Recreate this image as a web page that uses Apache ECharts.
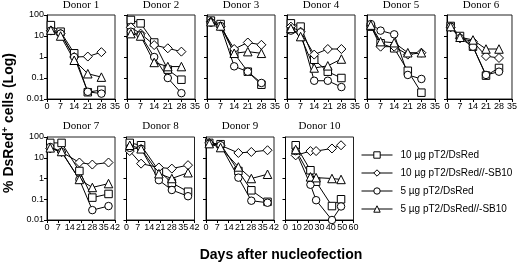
<!DOCTYPE html>
<html>
<head>
<meta charset="utf-8">
<script src="https://cdn.jsdelivr.net/npm/echarts@6/dist/echarts.min.js"></script>
<style>
  html, body { margin: 0; padding: 0; background: #fff; }
  #chart { width: 520px; height: 264px; }
</style>
</head>
<body>
<div id="chart"></div>
<script>
// panels
const donors = ['Donor 1', 'Donor 2', 'Donor 3', 'Donor 4', 'Donor 5',
                'Donor 6', 'Donor 7', 'Donor 8', 'Donor 9', 'Donor 10'];
const days = [
  [2, 7, 14, 21, 28], [2, 7, 14, 21, 28], [2, 7, 14, 21, 28],
  [2, 7, 14, 21, 28], [2, 7, 14, 21, 28], [2, 7, 14, 21, 28],
  [2, 9, 20, 28, 38], [2, 9, 20, 28, 38], [2, 9, 20, 28, 38],
  [9, 22, 27, 41, 49]
];
const xMax  = [35, 35, 35, 35, 35, 35, 42, 42, 42, 60];
const xStep = [7, 7, 7, 7, 7, 7, 7, 7, 7, 10];
const yTicks = ['100', '10', '1', '0.1', '0.01'];

// series names (legend)
const names = ['10 µg pT2/DsRed', '10 µg pT2/DsRed//-SB10',
               '5 µg pT2/DsRed', '5 µg pT2/DsRed//-SB10'];

// % DsRed+ per donor, one row per donor
const sq10 = [
  [33, 16, 1.5, 0.021, 0.027],
  [58, 40, 4.9, 0.25, 0.083],
  [54, 37, 1.5, 0.2, 0.048],
  [40, 28, 0.74, 0.2, 0.1],
  [28, 4.5, 2.6, 0.22, 0.02],
  [30, 10, 3.1, 0.13, 0.3],
  [52, 52, 2.3, 0.12, 0.18],
  [52, 40, 2.3, 0.62, 0.23],
  [52, 45, 2.3, 0.27, 0.075],
  [40, 2.5, 0.7, 0.047, 0.1]
];
const di10 = [
  [18, 13, 1.0, 1.05, 1.7],
  [26, 13, 3.7, 2.6, 1.8],
  [48, 28, 2.4, 4.9, 3.8],
  [28, 16, 1.3, 2.4, 2.4],
  [30, 3.1, 3.1, 1.3, 1.6],
  [26, 7.8, 5.4, 1.1, 0.9],
  [28, 19, 5.9, 4.7, 5.9],
  [21, 5.2, 3.4, 3.0, 4.4],
  [52, 40, 17, 19, 23],
  [13, 21, 21, 28, 40]
];
const ci5 = [
  [18, 13, 1.0, 0.022, 0.018],
  [16, 11, 1.0, 0.1, 0.019],
  [43, 30, 0.36, 0.2, 0.058],
  [18, 15, 0.074, 0.074, 0.037],
  [37, 18, 12, 0.14, 0.09],
  [28, 8, 3.1, 0.14, 0.2],
  [33, 19, 0.9, 0.03, 0.047],
  [30, 27, 0.83, 0.28, 0.14],
  [48, 40, 1.1, 0.085, 0.068],
  [21, 0.5, 0.09, 0.01, 0.045]
];
const tr5 = [
  [19, 10, 0.7, 0.16, 0.11],
  [13, 10, 0.55, 0.35, 0.35],
  [48, 30, 1.5, 1.8, 1.5],
  [23, 9.4, 0.3, 0.38, 0.8],
  [33, 5.4, 4.8, 1.6, 1.6],
  [28, 8.7, 6.5, 2.4, 2.4],
  [30, 20, 0.9, 0.37, 0.57],
  [40, 27, 1.7, 1.0, 1.9],
  [48, 31, 3.6, 1.0, 1.6],
  [25, 1.2, 1.1, 1.0, 0.9]
];

const groups = [sq10, di10, ci5, tr5];
const symbols = ['rect', 'diamond', 'circle', 'triangle'];
const symSize = [7.5, 9, 7.5, 8.5];

let chart = echarts.init(document.getElementById('chart'));

let grids = [], xAxes = [], yAxes = [], series = [], titles = [];
for (let i = 0; i < donors.length; i++) {
    let row = i < 6 ? 0 : 1;
    let col = i < 6 ? i : i - 6;
    let left = row === 0 ? 47 + col * 80 : 47 + col * 79.5;
    let top = row === 0 ? 15 : 137;
    let w = 68;
    let h = row === 0 ? 84 : 83;
    grids.push({left: left, top: top, width: w, height: h,
        show: true, borderColor: '#222', borderWidth: 1, containLabel: false});
    titles.push({
        text: donors[i], left: left + w / 2, top: row === 0 ? 0 : 121,
        textAlign: 'center', padding: 0,
        textStyle: {fontFamily: 'Liberation Serif', fontSize: 11, fontWeight: 'normal', color: '#000'}
    });
    xAxes.push({
        gridIndex: i, type: 'value', min: 0, max: xMax[i], interval: xStep[i],
        axisLine: {lineStyle: {color: '#000', width: 1}},
        axisTick: {length: 3, lineStyle: {color: '#000'}},
        axisLabel: {fontSize: 9, margin: 3, color: '#000', fontFamily: 'Liberation Sans'},
        splitLine: {show: false}
    });
    yAxes.push({
        gridIndex: i, type: 'log', logBase: 10, min: 0.01, max: 100,
        axisLine: {show: true, lineStyle: {color: '#000', width: 1}},
        axisTick: {show: true, length: 3, lineStyle: {color: '#000'}},
        axisLabel: {
            show: col === 0, fontSize: 9, margin: 3, color: '#000', fontFamily: 'Liberation Sans',
            formatter: function (v) {
                return yTicks[Math.round(2 - Math.log10(v))]
            }
        },
        splitLine: {show: false}
    });
    groups.forEach(function (g, k) {
        series.push({
            name: names[k], type: 'line', xAxisIndex: i, yAxisIndex: i,
            data: days[i].map(function (d, j) { return [d, g[i][j]] }),
            symbol: symbols[k], symbolSize: symSize[k], showAllSymbol: true,
            lineStyle: {color: '#000', width: 1},
            itemStyle: {color: '#fff', borderColor: '#000', borderWidth: 1},
            emphasis: {disabled: true},
            animation: false
        })
    })
}

let option = {
    backgroundColor: '#fff',
    animation: false,
    title: titles,
    grid: grids,
    xAxis: xAxes,
    yAxis: yAxes,
    series: series,
    legend: {
        data: names, orient: 'vertical', left: 361, top: 150,
        itemWidth: 31, itemHeight: 8, itemGap: 8, padding: 0,
        lineStyle: {width: 1, color: '#000'},
        itemStyle: {borderWidth: 1, borderColor: '#000', color: '#fff'},
        textStyle: {fontSize: 10, color: '#000', fontFamily: 'Liberation Sans', padding: [0, 0, 0, 3]}
    },
    graphic: [
        {
            type: 'text', x: 9, y: 123, rotation: Math.PI / 2,
            style: {
                text: '% DsRed{sup|+} cells (Log)',
                align: 'center', verticalAlign: 'middle',
                fontSize: 14, fontWeight: 'bold', fontFamily: 'Liberation Sans', fill: '#000',
                rich: {sup: {fontSize: 9, fontWeight: 'bold', fontFamily: 'Liberation Sans', verticalAlign: 'top', lineHeight: 16}}
            }
        },
        {
            type: 'text', x: 281, y: 255,
            style: {
                text: 'Days after nucleofection',
                align: 'center', verticalAlign: 'middle',
                fontSize: 14, fontWeight: 'bold', fontFamily: 'Liberation Sans', fill: '#000'
            }
        }
    ]
};
chart.setOption(option);
</script>
</body>
</html>
